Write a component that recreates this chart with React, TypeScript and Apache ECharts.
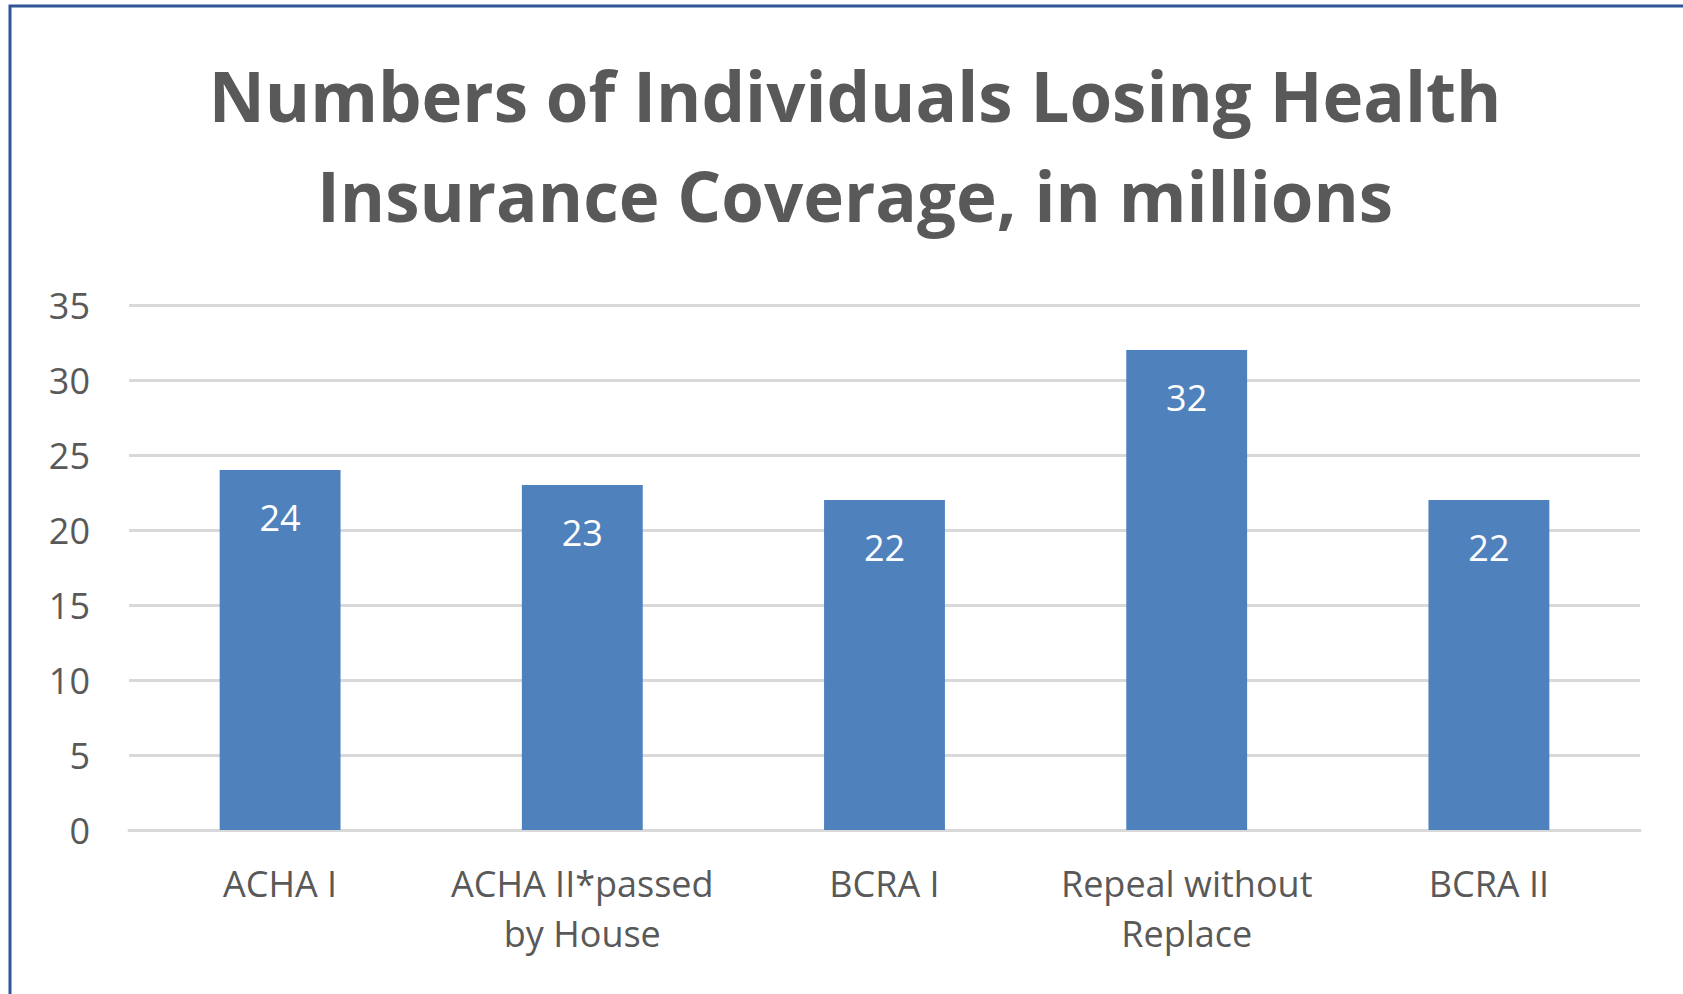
import React, { useEffect, useRef } from "react";
import * as echarts from "echarts";

const titleLines = ["Numbers of Individuals Losing Health", "Insurance Coverage, in millions"];
const categories = ["ACHA I", "ACHA II*passed\nby House", "BCRA I", "Repeal without\nReplace", "BCRA II"];
const values = [24, 23, 22, 32, 22];
const yTicks = { min: 0, max: 35, interval: 5 };

export default function App() {
  const ref = useRef<HTMLDivElement>(null);
  useEffect(() => {
    document.body.style.margin = "0";
    const chart = echarts.init(ref.current!, null, { renderer: "svg" });
    const font = "'Open Sans', 'Noto Sans', sans-serif";
    chart.setOption({
      animation: false,
      backgroundColor: "#ffffff",
      title: {
        text: titleLines.join("\n"),
        left: 850,
        textAlign: "center",
        top: 40,
        textStyle: {
          fontFamily: font,
          fontWeight: "bold",
          fontSize: 69,
          lineHeight: 100,
          color: "#595959",
        },
      },
      graphic: [
        {
          type: "rect",
          shape: { x: 10, y: 6, width: 3000, height: 3000 },
          style: { fill: "none", stroke: "#2F5597", lineWidth: 3 },
          silent: true,
          z: 100,
        },
      ],
      grid: { left: 129, right: 43, top: 305, bottom: 164, containLabel: false },
      xAxis: {
        type: "category",
        data: categories,
        axisLine: { show: true, lineStyle: { color: "#D9D9D9", width: 3 } },
        axisTick: { show: false },
        axisLabel: {
          fontFamily: font,
          fontSize: 36,
          color: "#595959",
          lineHeight: 50,
          margin: 28,
          interval: 0,
        },
      },
      yAxis: {
        type: "value",
        min: yTicks.min,
        max: yTicks.max,
        interval: yTicks.interval,
        axisLine: { show: false },
        axisTick: { show: false },
        splitLine: { lineStyle: { color: "#D9D9D9", width: 3 } },
        axisLabel: {
          fontFamily: font,
          fontSize: 36,
          color: "#595959",
          margin: 39,
        },
      },
      series: [
        {
          type: "bar",
          data: values,
          barCategoryGap: "60%",
          itemStyle: { color: "#4F81BD" },
          label: {
            show: true,
            position: "insideTop",
            distance: 28,
            fontFamily: font,
            fontSize: 36,
            lineHeight: 38,
            color: "#ffffff",
          },
        },
      ],
    });
    return () => chart.dispose();
  }, []);
  return <div ref={ref} style={{ width: 1683, height: 994 }} />;
}
